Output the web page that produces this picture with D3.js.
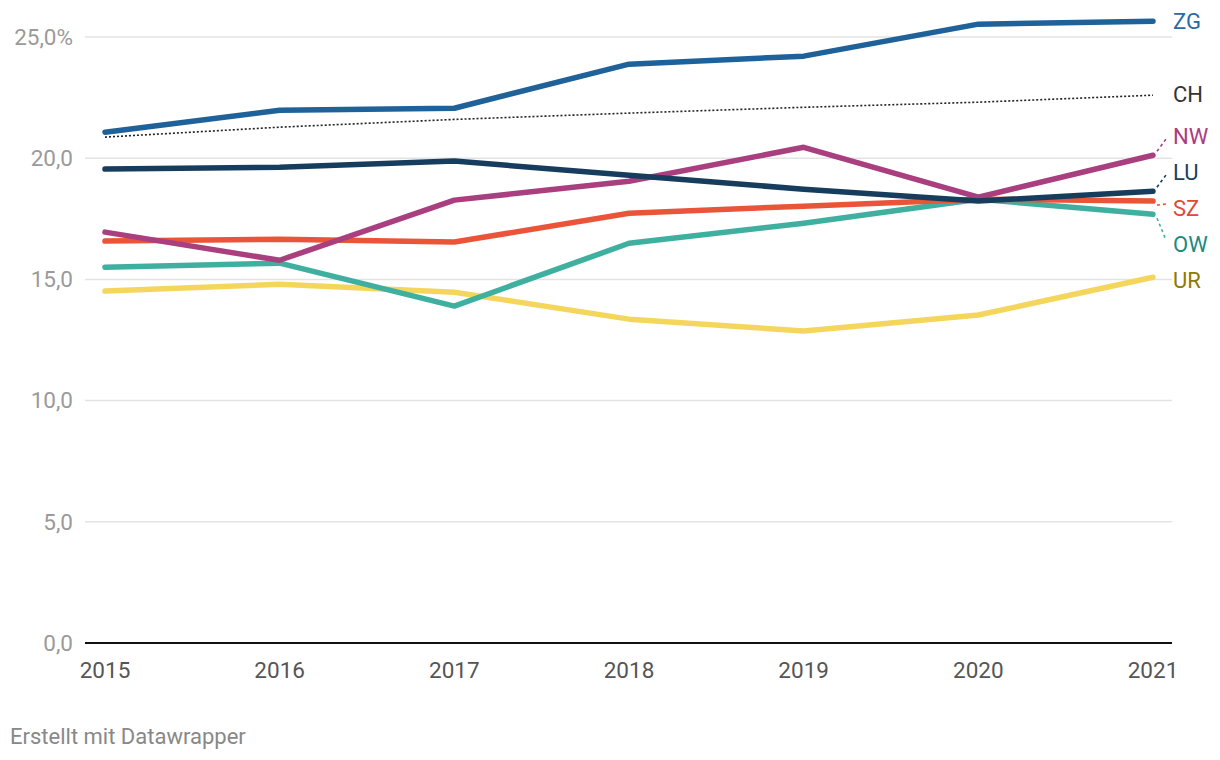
<!DOCTYPE html>
<html><head><meta charset="utf-8">
<script src="https://cdn.jsdelivr.net/npm/d3@7"></script>
<style>
body{margin:0;background:#fff;font-family:Roboto,sans-serif;}
</style></head>
<body>
<svg id="chart" width="1220" height="760"></svg>
<script>
const years = [2015, 2016, 2017, 2018, 2019, 2020, 2021];
const ZG = [21.07, 21.98, 22.06, 23.88, 24.21, 25.53, 25.65];
const CH = [20.87, 21.28, 21.6, 21.86, 22.1, 22.31, 22.6];
const LU = [19.55, 19.63, 19.88, 19.3, 18.72, 18.23, 18.64];
const NW = [16.95, 15.79, 18.27, 19.05, 20.45, 18.39, 20.12];
const SZ = [16.58, 16.66, 16.54, 17.73, 18.02, 18.31, 18.23];
const OW = [15.5, 15.67, 13.9, 16.49, 17.32, 18.31, 17.69];
const UR = [14.52, 14.8, 14.47, 13.36, 12.87, 13.53, 15.09];
const yTicks = [0, 5, 10, 15, 20, 25];
const seriesNames = ["UR", "OW", "SZ", "NW", "LU", "CH", "ZG"];
const seriesValues = {ZG, CH, LU, NW, SZ, OW, UR};

const lineColor = {ZG:"#1f6199", CH:"#222", LU:"#173d5e", NW:"#a93f7f", SZ:"#ea5539", OW:"#3fb0a0", UR:"#f5d65d"};
const labelColor = {ZG:"#2b6aa3", CH:"#333", LU:"#1c3f5f", NW:"#ad3a82", SZ:"#e04a35", OW:"#1b8a7f", UR:"#8f7a00"};
const labelY = {ZG:21, CH:94, NW:136, LU:172, SZ:208, OW:244, UR:280};

const svg = d3.select("#chart");
const x = d3.scalePoint().domain(years).range([105, 1153]);
const y = d3.scaleLinear().domain([0, 25]).range([643, 37]);

// gridlines
svg.append("g").selectAll("line").data(yTicks.filter(d => d > 0)).join("line")
  .attr("x1", 85).attr("x2", 1172)
  .attr("y1", d => y(d)).attr("y2", d => y(d))
  .attr("stroke", "#e3e3e3").attr("stroke-width", 1.5);
svg.append("line").attr("x1", 85).attr("x2", 1172).attr("y1", y(0)).attr("y2", y(0))
  .attr("stroke", "#111").attr("stroke-width", 2);

// y labels
svg.append("g").selectAll("text").data(yTicks).join("text")
  .attr("x", 73).attr("y", d => y(d)).attr("dy", "0.35em")
  .attr("text-anchor", "end").attr("fill", "#9a9a9a").attr("font-size", 22.5)
  .text(d => d3.format(".1f")(d).replace(".", ",") + (d === 25 ? "%" : ""));

// x labels
svg.append("g").selectAll("text").data(years).join("text")
  .attr("x", d => x(d)).attr("y", 678)
  .attr("text-anchor", "middle").attr("fill", "#555").attr("font-size", 22.5)
  .text(d => d);

const line = d3.line().x((d, i) => x(years[i])).y(d => y(d));

seriesNames.forEach(name => {
  const vals = seriesValues[name];
  const p = svg.append("path").attr("d", line(vals)).attr("fill", "none")
    .attr("stroke", lineColor[name]).attr("stroke-linejoin", "round").attr("stroke-linecap", "round");
  if (name === "CH") {
    p.attr("stroke-width", 1.6).attr("stroke-dasharray", "2,2").attr("stroke-linecap", "butt");
  } else {
    p.attr("stroke-width", 5.5);
  }
});

// labels and connectors
seriesNames.forEach(name => {
  const vals = seriesValues[name];
  const ex = x(years[years.length - 1]);
  const ey = y(vals[vals.length - 1]);
  const ly = labelY[name];
  if (Math.abs(ey - ly) > 6) {
    svg.append("line").attr("x1", ex + 4).attr("y1", ey + (ly < ey ? -4 : 4))
      .attr("x2", 1166).attr("y2", ly + (ly < ey ? 3 : -4))
      .attr("stroke", lineColor[name] === "#f5d65d" ? "#8f7a00" : lineColor[name])
      .attr("stroke-width", 1.6).attr("stroke-dasharray", "3,3");
  }
  svg.append("text").attr("x", 1173).attr("y", ly).attr("dy", "0.35em")
    .attr("fill", labelColor[name]).attr("font-size", 22).text(name);
});

svg.append("text").attr("x", 10).attr("y", 744).attr("fill", "#888").attr("font-size", 22)
  .text("Erstellt mit Datawrapper");
</script>
</body></html>
